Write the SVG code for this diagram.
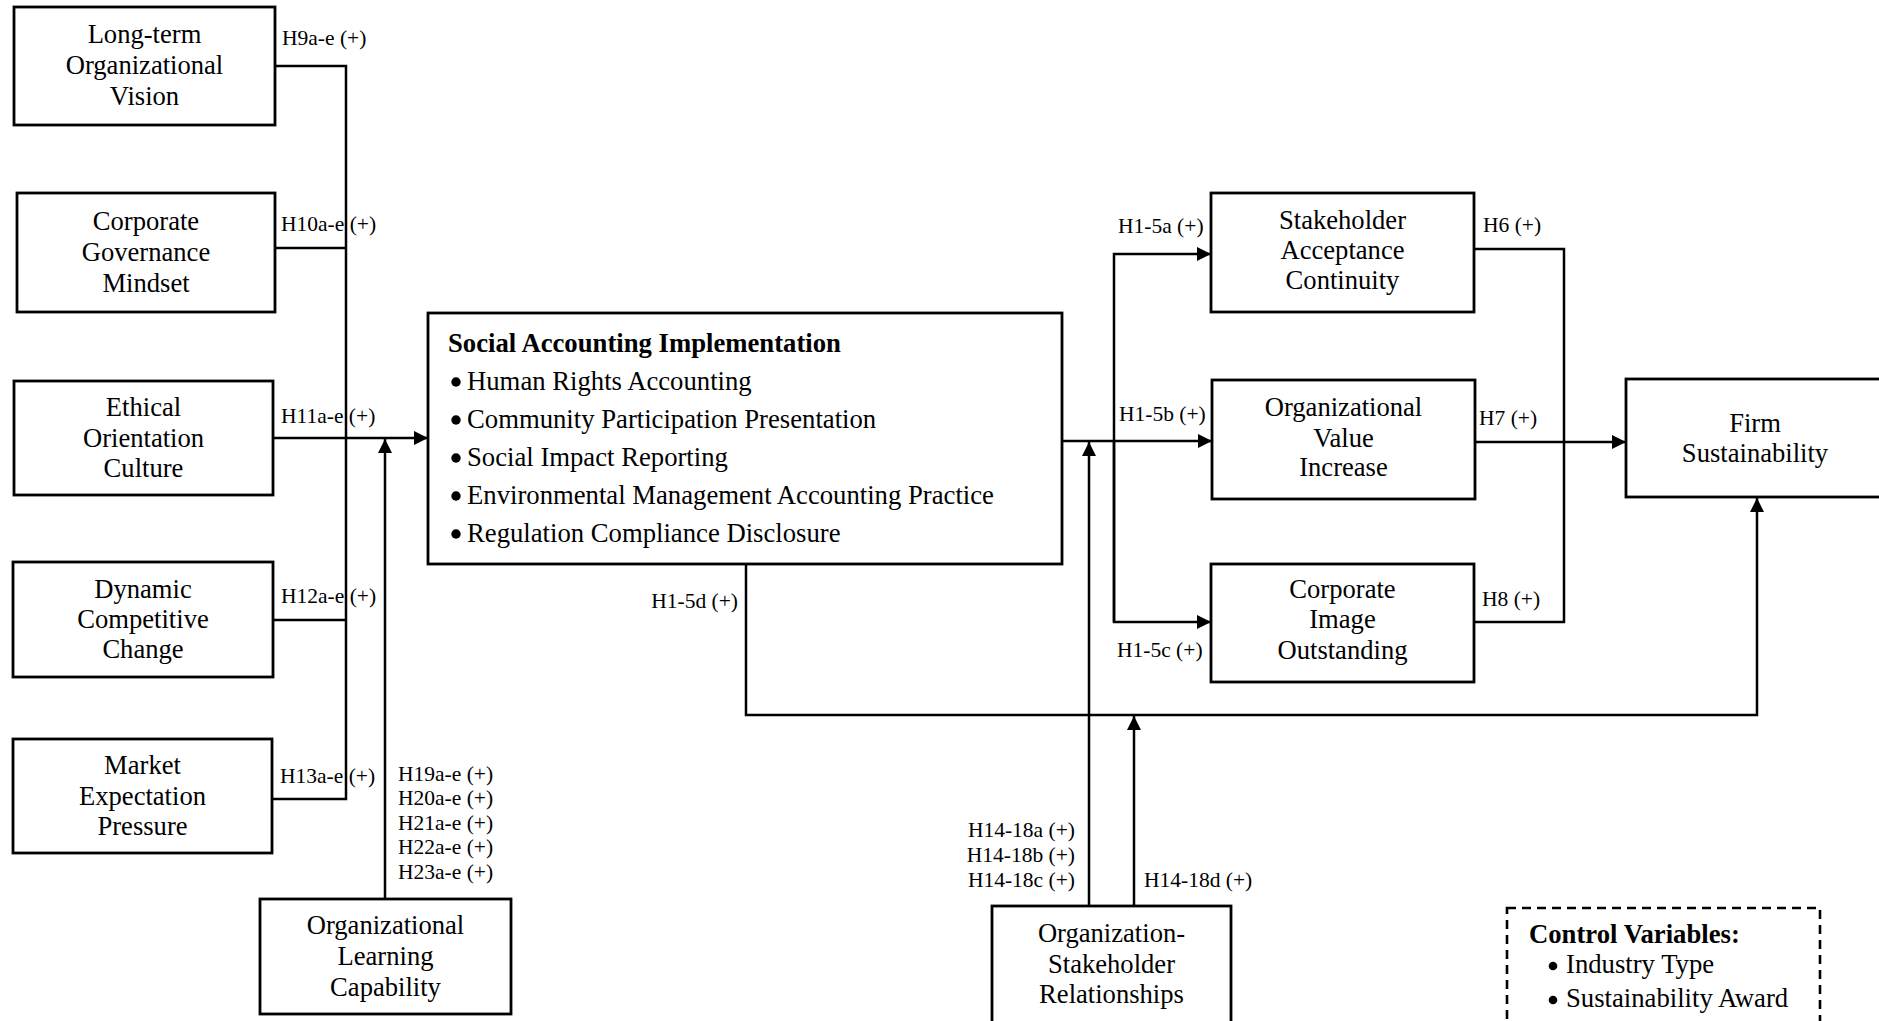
<svg xmlns="http://www.w3.org/2000/svg" width="1879" height="1021" viewBox="0 0 1879 1021">
  <style>
    .box { fill: #fff; stroke: #000; stroke-width: 2.8; }
    .dash { fill: none; stroke: #000; stroke-width: 2.6; stroke-dasharray: 9 6; }
    .ln { fill: none; stroke: #000; stroke-width: 2.5; }
    .arr { marker-end: url(#ah); }
    .dot { fill: #000; }
    text { font-family: "Liberation Serif", "Times New Roman", serif; fill: #000; }
    .t { font-size: 26.6px; text-anchor: middle; }
    .b { font-size: 26.7px; }
    .bold { font-weight: bold; }
    .lbl { font-size: 21.5px; }
    .end { text-anchor: end; }
  </style>
  <defs>
    <marker id="ah" markerUnits="userSpaceOnUse" markerWidth="15" markerHeight="15" refX="14" refY="7" orient="auto">
      <path d="M0,0 L14,7 L0,14 z" fill="#000"/>
    </marker>
  </defs>
  <rect width="1879" height="1021" fill="#fff"/>

  <!-- connectors -->
  <g id="connectors">
    <!-- antecedents into the bus line -->
    <path class="ln" d="M275,66 H346 V799 H272"/>
    <path class="ln" d="M275,248 H346"/>
    <path class="ln" d="M273,620 H346"/>
    <path class="ln arr" d="M273,438 H428"/>
    <!-- learning capability moderator -->
    <path class="ln arr" d="M385,899 V439"/>
    <!-- social accounting to outcomes -->
    <path class="ln arr" d="M1062,441 H1212"/>
    <path class="ln arr" d="M1114,622 V254 H1211"/>
    <path class="ln arr" d="M1114,441 V622 H1211"/>
    <!-- outcomes to firm sustainability -->
    <path class="ln" d="M1474,249 H1564 V622 H1474"/>
    <path class="ln arr" d="M1475,442 H1626"/>
    <!-- direct path -->
    <path class="ln arr" d="M746,563 V715 H1757 V498"/>
    <!-- stakeholder relationships moderator -->
    <path class="ln arr" d="M1089,906 V442"/>
    <path class="ln arr" d="M1134,906 V716"/>
  </g>

  <!-- path labels -->
  <g id="labels">
    <text class="lbl" x="282" y="45">H9a-e (+)</text>
    <text class="lbl" x="281" y="231">H10a-e (+)</text>
    <text class="lbl" x="281" y="423">H11a-e (+)</text>
    <text class="lbl" x="281" y="603">H12a-e (+)</text>
    <text class="lbl" x="280" y="783">H13a-e (+)</text>
    <text class="lbl" x="398" y="781">H19a-e (+)</text>
    <text class="lbl" x="398" y="805">H20a-e (+)</text>
    <text class="lbl" x="398" y="830">H21a-e (+)</text>
    <text class="lbl" x="398" y="854">H22a-e (+)</text>
    <text class="lbl" x="398" y="879">H23a-e (+)</text>
    <text class="lbl end" x="738" y="608">H1-5d (+)</text>
    <text class="lbl" x="1118" y="233">H1-5a (+)</text>
    <text class="lbl" x="1119" y="421">H1-5b (+)</text>
    <text class="lbl" x="1117" y="657">H1-5c (+)</text>
    <text class="lbl" x="1483" y="232">H6 (+)</text>
    <text class="lbl" x="1479" y="425">H7 (+)</text>
    <text class="lbl" x="1482" y="606">H8 (+)</text>
    <text class="lbl end" x="1075" y="837">H14-18a (+)</text>
    <text class="lbl end" x="1075" y="862">H14-18b (+)</text>
    <text class="lbl end" x="1075" y="887">H14-18c (+)</text>
    <text class="lbl" x="1144" y="887">H14-18d (+)</text>
  </g>

  <g id="vision">
    <rect class="box" x="14" y="7" width="261" height="118"/>
    <text class="t" x="144.5" y="43">Long-term</text>
    <text class="t" x="144.5" y="74">Organizational</text>
    <text class="t" x="144.5" y="105">Vision</text>
  </g>
  <g id="governance">
    <rect class="box" x="17" y="193" width="258" height="119"/>
    <text class="t" x="146" y="230">Corporate</text>
    <text class="t" x="146" y="261">Governance</text>
    <text class="t" x="146" y="292">Mindset</text>
  </g>
  <g id="ethical">
    <rect class="box" x="14" y="381" width="259" height="114"/>
    <text class="t" x="143.5" y="416">Ethical</text>
    <text class="t" x="143.5" y="447">Orientation</text>
    <text class="t" x="143.5" y="477">Culture</text>
  </g>
  <g id="dynamic">
    <rect class="box" x="13" y="562" width="260" height="115"/>
    <text class="t" x="143" y="598">Dynamic</text>
    <text class="t" x="143" y="628">Competitive</text>
    <text class="t" x="143" y="658">Change</text>
  </g>
  <g id="market">
    <rect class="box" x="13" y="739" width="259" height="114"/>
    <text class="t" x="142.5" y="774">Market</text>
    <text class="t" x="142.5" y="805">Expectation</text>
    <text class="t" x="142.5" y="835">Pressure</text>
  </g>
  <g id="learning">
    <rect class="box" x="260" y="899" width="251" height="115"/>
    <text class="t" x="385.5" y="934">Organizational</text>
    <text class="t" x="385.5" y="965">Learning</text>
    <text class="t" x="385.5" y="996">Capability</text>
  </g>

  <g id="social-accounting">
    <rect class="box" x="428" y="313" width="634" height="251"/>
    <text class="b bold" x="448" y="352">Social Accounting Implementation</text>
    <circle class="dot" cx="456" cy="382" r="4.7"/>
    <circle class="dot" cx="456" cy="420" r="4.7"/>
    <circle class="dot" cx="456" cy="458" r="4.7"/>
    <circle class="dot" cx="456" cy="496" r="4.7"/>
    <circle class="dot" cx="456" cy="534" r="4.7"/>
    <text class="b" x="467" y="390">Human Rights Accounting</text>
    <text class="b" x="467" y="428">Community Participation Presentation</text>
    <text class="b" x="467" y="466">Social Impact Reporting</text>
    <text class="b" x="467" y="504">Environmental Management Accounting Practice</text>
    <text class="b" x="467" y="542">Regulation Compliance Disclosure</text>
  </g>

  <g id="acceptance">
    <rect class="box" x="1211" y="193" width="263" height="119"/>
    <text class="t" x="1342.5" y="229">Stakeholder</text>
    <text class="t" x="1342.5" y="259">Acceptance</text>
    <text class="t" x="1342.5" y="289">Continuity</text>
  </g>
  <g id="value">
    <rect class="box" x="1212" y="380" width="263" height="119"/>
    <text class="t" x="1343.5" y="416">Organizational</text>
    <text class="t" x="1343.5" y="447">Value</text>
    <text class="t" x="1343.5" y="476">Increase</text>
  </g>
  <g id="image">
    <rect class="box" x="1211" y="564" width="263" height="118"/>
    <text class="t" x="1342.5" y="598">Corporate</text>
    <text class="t" x="1342.5" y="628">Image</text>
    <text class="t" x="1342.5" y="659">Outstanding</text>
  </g>
  <g id="sustainability">
    <rect class="box" x="1626" y="379" width="262" height="118"/>
    <text class="t" x="1755" y="432">Firm</text>
    <text class="t" x="1755" y="462">Sustainability</text>
  </g>
  <g id="relationships">
    <rect class="box" x="992" y="906" width="239" height="125"/>
    <text class="t" x="1111.5" y="942">Organization-</text>
    <text class="t" x="1111.5" y="973">Stakeholder</text>
    <text class="t" x="1111.5" y="1003">Relationships</text>
  </g>
  <g id="controls">
    <rect class="dash" x="1507" y="908" width="313" height="125"/>
    <text class="b bold" x="1529" y="943">Control Variables:</text>
    <circle class="dot" cx="1553" cy="966" r="4.3"/>
    <circle class="dot" cx="1553" cy="1000" r="4.3"/>
    <text class="b" x="1566" y="973">Industry Type</text>
    <text class="b" x="1566" y="1007">Sustainability Award</text>
  </g>
</svg>
